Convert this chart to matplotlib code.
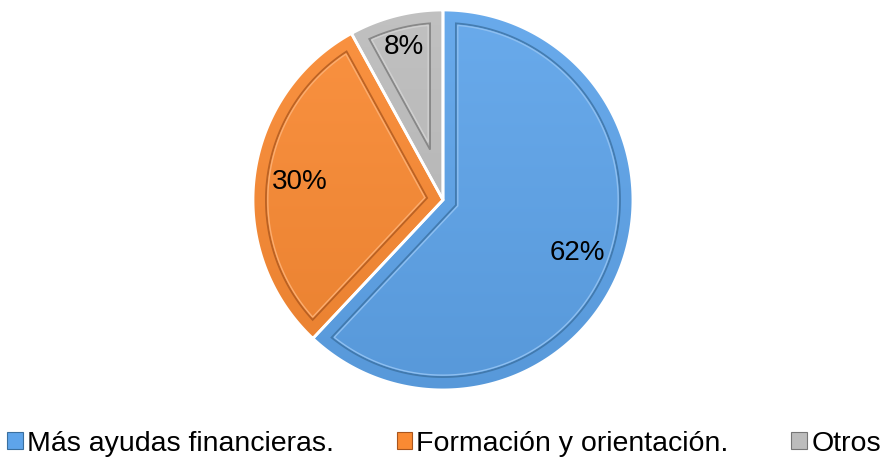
import numpy as np
import matplotlib.pyplot as plt
from matplotlib.patches import Polygon, Patch
from matplotlib.colors import to_rgb

categorias = ['Más ayudas financieras.', 'Formación y orientación.', 'Otros']
porcentajes = [62, 30, 8]
colores = ['#5ea4ea', '#fa8a33', '#bcbcbc']
bordes = ['#3a6f9f', '#a9551d', '#767676']
dist_etiquetas = [0.76, 0.76, 0.83]

plt.rcParams['font.family'] = ['Liberation Sans', 'DejaVu Sans']


def mezcla(c, otro, t):
    c = np.array(to_rgb(c))
    return (1 - t) * c + t * np.array(otro)


def marco(w, d):
    # contorno interior del sector, desplazado d hacia dentro
    t1, t2 = np.radians(w.theta1), np.radians(w.theta2)
    half = (t2 - t1) / 2
    mid = (t1 + t2) / 2
    apex = d / np.sin(half) * np.array([np.cos(mid), np.sin(mid)])
    r = w.r - d
    da = np.arcsin(d / r)
    ang = np.linspace(t1 + da, t2 - da, 200)
    return np.vstack([[apex], np.c_[r * np.cos(ang), r * np.sin(ang)]])


fig = plt.figure(figsize=(8.88, 4.59), dpi=100)
ax = fig.add_axes([0.2742, 0.1297, 0.4493, 0.8693])

wedges, _ = ax.pie(porcentajes, colors=colores, startangle=90, counterclock=False,
                   wedgeprops=dict(edgecolor='white', linewidth=2))

for w, c, b in zip(wedges, colores, bordes):
    # degradado vertical dentro de cada sector
    grad = np.linspace(0, 1, 256)[:, None]
    top = mezcla(c, (1, 1, 1), 0.07)
    bot = mezcla(c, (0, 0, 0), 0.07)
    img = (1 - grad)[..., None] * top + grad[..., None] * bot
    im = ax.imshow(img, extent=[-1, 1, -1, 1], origin='upper', aspect='auto',
                   zorder=w.get_zorder() + 0.1)
    im.set_clip_path(w)
    # efecto de bisel
    pts = marco(w, 0.068)
    ax.add_patch(Polygon(pts, closed=True, fill=False, edgecolor=b, lw=1.3,
                         alpha=0.75, zorder=3))
    pts2 = marco(w, 0.078)
    ax.add_patch(Polygon(pts2, closed=True, fill=False,
                         edgecolor=mezcla(c, (1, 1, 1), 0.3), lw=1.0, zorder=3))
    # borde blanco encima del degradado
    ax.add_patch(Polygon(marco(w, 0.0001), closed=True, fill=False,
                         edgecolor='white', lw=2, zorder=4))

for w, p, d in zip(wedges, porcentajes, dist_etiquetas):
    mid = np.radians((w.theta1 + w.theta2) / 2)
    ax.text(d * np.cos(mid), d * np.sin(mid), f'{p}%', ha='center', va='center',
            fontsize=20, color='black', zorder=5)

ax.set_xlim(-1.05, 1.05)
ax.set_ylim(-1.05, 1.05)
ax.set_aspect('equal')
ax.axis('off')

handles = [Patch(facecolor=c, edgecolor=b, lw=0.8) for c, b in zip(colores, bordes)]
fig.legend(handles, categorias, loc='center', bbox_to_anchor=(0.5, 0.033), ncol=3,
           frameon=False, fontsize=20.5, handlelength=0.55, handleheight=0.55,
           handletextpad=0.15, columnspacing=2.2, borderpad=0, borderaxespad=0)

fig.savefig('out.png', dpi=100)
